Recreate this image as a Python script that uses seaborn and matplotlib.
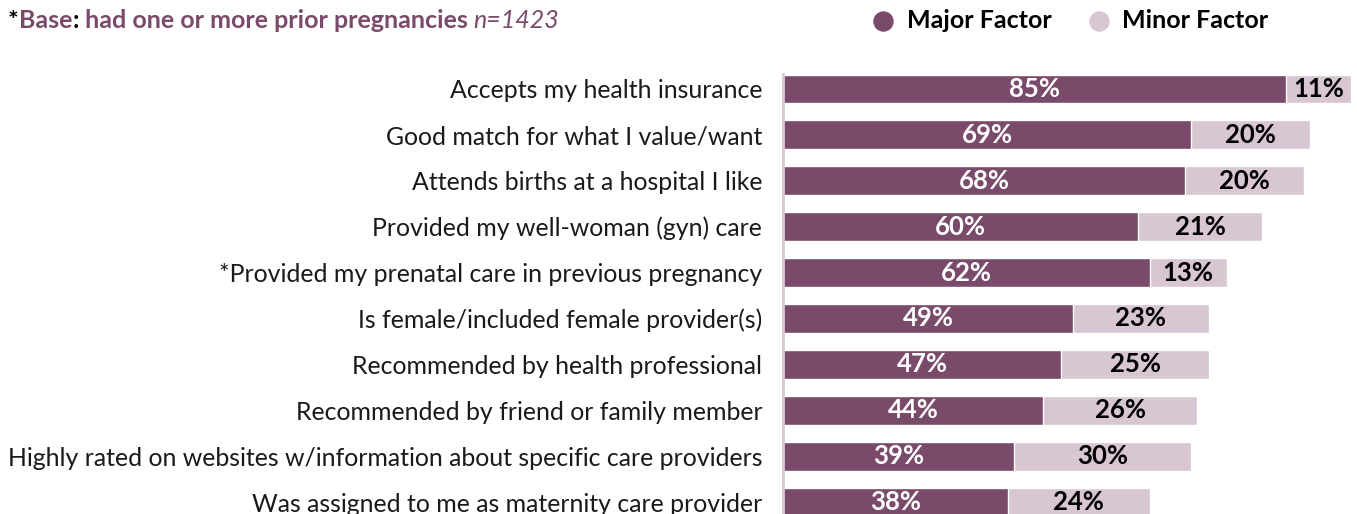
"""
Факторы выбора поставщика медицинской помощи — горизонтальные столбцы с накоплением
"""
import pandas as pd
import matplotlib.pyplot as plt
import seaborn as sns
from matplotlib.lines import Line2D

categories = [
    'Accepts my health insurance',
    'Good match for what I value/want',
    'Attends births at a hospital I like',
    'Provided my well-woman (gyn) care',
    '*Provided my prenatal care in previous pregnancy',
    'Is female/included female provider(s)',
    'Recommended by health professional',
    'Recommended by friend or family member',
    'Highly rated on websites w/information about specific care providers',
    'Was assigned to me as maternity care provider',
]
major = [85, 69, 68, 60, 62, 49, 47, 44, 39, 38]
minor = [11, 20, 20, 21, 13, 23, 25, 26, 30, 24]

MAJOR_COLOR = '#7A4A6A'
MINOR_COLOR = '#D8C6D2'
FONT = 'Lato'

df = pd.DataFrame({'category': categories, 'major': major, 'minor': minor})
df['total'] = df['major'] + df['minor']

sns.set_theme(style='white')
plt.rcParams['font.family'] = [FONT, 'DejaVu Sans']

W, H = 1357, 514
fig = plt.figure(figsize=(W / 100, H / 100), dpi=100)

# Ось: левый край столбцов ~783 px, шаг строк ~45.9 px
px_per_row = 45.9
top_px = 89 - px_per_row / 2
ax_h = H - top_px
ax = fig.add_axes([783 / W, 0, 568 / W, ax_h / H])

sns.barplot(data=df, y='category', x='total', color=MINOR_COLOR, orient='h',
            width=0.63, saturation=1, ax=ax)
sns.barplot(data=df, y='category', x='major', color=MAJOR_COLOR, orient='h',
            width=0.63, saturation=1, ax=ax)

ax.set_xlim(0, 96)
ax.set_ylim(-0.5 + ax_h / px_per_row, -0.5)
ax.set_xlabel('')
ax.set_ylabel('')
ax.set_xticks([])
ax.tick_params(axis='y', length=0, pad=15, labelsize=17.9)
for lbl in ax.get_yticklabels():
    lbl.set_color('#1a1a1a')

for side in ['top', 'right', 'bottom']:
    ax.spines[side].set_visible(False)
ax.spines['left'].set_color('#D8C6D2')
ax.spines['left'].set_linewidth(2)
ax.spines['left'].set_bounds(-0.32, 9.5)

# Подписи значений
for i, (mj, mn) in enumerate(zip(major, minor)):
    ax.text(mj / 2, i, f'{mj}%', ha='center', va='center', color='white',
            fontsize=18.5, fontweight='bold')
    ax.text(mj + mn / 2, i, f'{mn}%', ha='center', va='center', color='black',
            fontsize=18.5, fontweight='bold')

# Заголовок из нескольких кусков разного цвета
fig.canvas.draw()
renderer = fig.canvas.get_renderer()
pieces = [
    ('*', 'black', 'bold', 'normal'),
    ('Base', MAJOR_COLOR, 'bold', 'normal'),
    (':', 'black', 'bold', 'normal'),
    (' had one or more prior pregnancies ', MAJOR_COLOR, 'bold', 'normal'),
    ('n=1423', MAJOR_COLOR, 'normal', 'italic'),
]
x = 8
for txt, col, wt, st in pieces:
    t = fig.text(x / W, 1 - 21 / H, txt, color=col, fontweight=wt, fontstyle=st,
                 fontsize=18, va='center', ha='left')
    bb = t.get_window_extent(renderer=renderer)
    x += bb.width

# Легенда вручную: кружок + подпись
legend_items = [('Major Factor', MAJOR_COLOR, 883, 907),
                ('Minor Factor', MINOR_COLOR, 1099, 1122)]
for label, col, mx, tx in legend_items:
    fig.add_artist(Line2D([mx / W], [1 - 21 / H], transform=fig.transFigure,
                          marker='o', linestyle='', markersize=13.7,
                          markerfacecolor=col, markeredgecolor=col))
    fig.text(tx / W, 1 - 21 / H, label, fontsize=18, fontweight='bold',
             color='black', va='center', ha='left')

fig.savefig('out.png', dpi=100)
